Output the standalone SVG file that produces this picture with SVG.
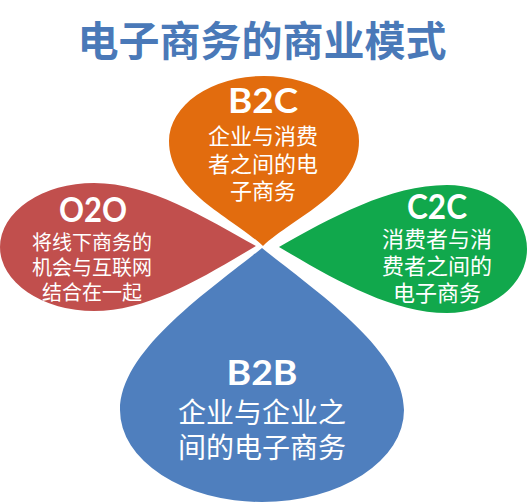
<svg xmlns="http://www.w3.org/2000/svg" width="531" height="504" viewBox="0 0 531 504">
<style>
.title{font-family:"Noto Sans CJK SC","Liberation Sans",sans-serif;font-weight:700;font-size:41px;fill:#4a79b8;text-anchor:middle}
.lbl{font-family:Lato,"Liberation Sans",sans-serif;font-weight:700;font-size:35px;fill:#ffffff;text-anchor:middle}
.cn{font-family:"Noto Sans CJK SC","Liberation Sans",sans-serif;fill:#ffffff;text-anchor:middle}
</style>
<rect width="531" height="504" fill="#ffffff"/>
<text class="title" x="262" y="56">电子商务的商业模式</text>
<g id="connectors"></g>
<g id="b2c">
<path d="M263 246 C232 217 169 192 169 141 A95 65 0 0 1 359 141 C359 192 294 217 263 246 Z" fill="#e26c0e"/>
<text class="lbl" x="263" y="113" textLength="70" lengthAdjust="spacingAndGlyphs">B2C</text>
<text class="cn" font-size="22"><tspan x="263" y="144">企业与消费</tspan><tspan x="263" y="172">者之间的电</tspan><tspan x="263" y="199">子商务</tspan></text>
</g>
<g id="o2o">
<path d="M256 246 C205 218 150 183 94 183 A94 64 0 0 0 94 311 C150 311 205 276 256 246 Z" fill="#c14f4d"/>
<text class="lbl" x="93" y="222" textLength="68" lengthAdjust="spacingAndGlyphs">O2O</text>
<text class="cn" font-size="20"><tspan x="92" y="250">将线下商务的</tspan><tspan x="92" y="275">机会与互联网</tspan><tspan x="92" y="300">结合在一起</tspan></text>
</g>
<g id="c2c">
<path d="M279 247 C330 218 390 185 447 185 A80 64 0 0 1 447 313 C390 313 330 277 279 247 Z" fill="#11a84c"/>
<text class="lbl" x="437" y="219" textLength="60" lengthAdjust="spacingAndGlyphs">C2C</text>
<text class="cn" font-size="22"><tspan x="437" y="247">消费者与消</tspan><tspan x="437" y="274">费者之间的</tspan><tspan x="437" y="301">电子商务</tspan></text>
</g>
<g id="b2b">
<path d="M262 248 C314 290 404 350 404 410 A142 92 0 0 1 120 410 C120 350 210 290 262 248 Z" fill="#4f7fbe"/>
<text class="lbl" x="262" y="385" textLength="71" lengthAdjust="spacingAndGlyphs">B2B</text>
<text class="cn" font-size="28"><tspan x="262" y="423">企业与企业之</tspan><tspan x="262" y="458">间的电子商务</tspan></text>
</g>
</svg>
